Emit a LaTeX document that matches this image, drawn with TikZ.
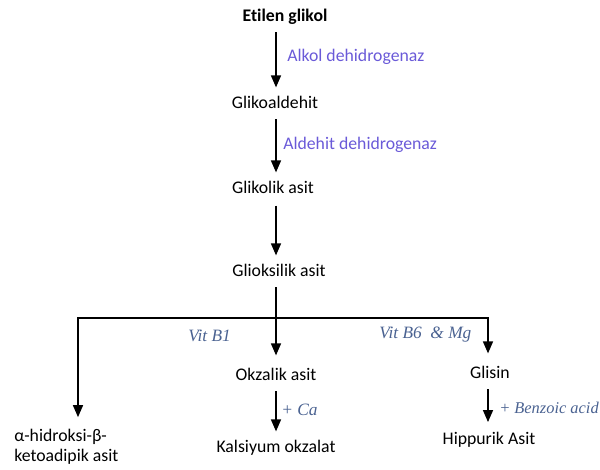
\documentclass[tikz,border=0pt]{standalone}
\usepackage{fontspec}
\setmainfont{Carlito}[Ligatures=NoCommon]
\newfontfamily\vitfont{Liberation Serif}
\usetikzlibrary{arrows.meta}
\definecolor{enzcolor}{HTML}{6A5AD8}
\definecolor{vitcolor}{HTML}{4A6291}
\tikzstyle{chem}=[inner sep=0pt, text height=9.5pt, text depth=3pt, font=\fontsize{13.3}{15}\selectfont]
\tikzstyle{enzyme}=[anchor=west, inner sep=0pt, text=enzcolor, font=\fontsize{13.3}{15}\selectfont]
\tikzstyle{cofactor}=[anchor=west, inner sep=0pt, text=vitcolor, font=\vitfont\itshape\fontsize{13}{15}\selectfont]
\tikzstyle{arrow}=[draw=black, line width=1.1pt, -{Triangle[width=7.5pt,length=9pt]}]

\begin{document}
\begin{tikzpicture}[x=0.75pt, y=-0.75pt]
  \useasboundingbox (0,0) rectangle (600,470);
  % main chain
  \node (etilen) at (285, 17)[chem] {\bfseries Etilen glikol};
  \node (glikoal) at (275, 104)[chem] {Glikoaldehit};
  \node (glikolik) at (273, 189)[chem] {Glikolik asit};
  \node (glioks) at (279, 272)[chem] {Glioksilik asit};
  \node (okzalik) at (276, 376)[chem] {Okzalik asit};
  \node (kalsiyum) at (276, 448)[chem] {Kalsiyum okzalat};
  \node (glisin) at (490, 374)[chem] {Glisin};
  \node (hippurik) at (489, 440)[chem] {Hippurik Asit};
  \node (hidroksi) at (14, 447)[chem, anchor=west, text height=, text depth=, align=left] {α-hidroksi-β-\\ketoadipik asit};
  % enzymes and cofactors
  \node (alkol) at (287, 57)[enzyme] {Alkol dehidrogenaz};
  \node (aldehit) at (283, 145)[enzyme] {Aldehit dehidrogenaz};
  \node (vitbone) at (188, 336)[cofactor] {Vit B1};
  \node (vitbsix) at (379, 335)[cofactor] {Vit B6\ \ \& Mg};
  \node (calc) at (281, 410)[cofactor] {+ Ca};
  \node (benzoic) at (499, 408)[cofactor, font=\vitfont\itshape\fontsize{12.3}{15}\selectfont] {+ Benzoic acid};
  % branch points
  \coordinate (split) at (276, 318);
  \coordinate (splitL) at (78, 318);
  \coordinate (splitR) at (488, 318);
  % connectors
  \draw[arrow, shorten <=5pt, shorten >=6pt] (etilen.south -| split) -- (split |- glikoal.north);
  \draw[arrow, shorten <=5pt, shorten >=6pt] (split |- glikoal.south) -- (split |- glikolik.north);
  \draw[arrow, shorten <=6pt, shorten >=6pt] (split |- glikolik.south) -- (split |- glioks.north);
  \draw[arrow, shorten <=5pt, shorten >=9pt] (glioks.south -| okzalik.north) -- (okzalik.north);
  \draw[arrow, shorten >=9pt] (split) -- (splitL) -- (splitL |- hidroksi.north);
  \draw[arrow, shorten >=9pt] (split) -- (splitR) -- (splitR |- glisin.north);
  \draw[arrow, shorten <=5pt, shorten >=6pt] (okzalik.south) -- (kalsiyum.north);
  \draw[arrow, shorten <=5pt, shorten >=7pt] (splitR |- glisin.south) -- (splitR |- hippurik.north);
\end{tikzpicture}
\end{document}
